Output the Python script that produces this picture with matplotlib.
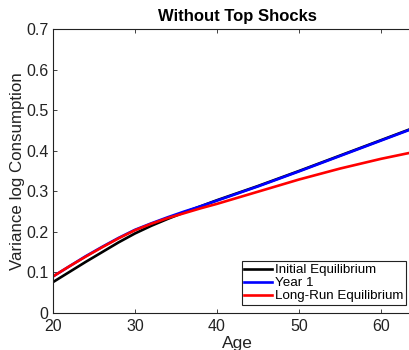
import numpy as np
import matplotlib.pyplot as plt

plt.rcParams['font.family'] = ['Liberation Sans', 'DejaVu Sans']

# variance of log consumption by age
age = [20, 22, 24, 26, 28, 30, 32, 34, 36, 38, 40, 45, 50, 55, 60, 65]
initial_eq = [0.076, 0.101, 0.126, 0.150, 0.174, 0.196, 0.215, 0.232, 0.248, 0.263, 0.278,
              0.313, 0.350, 0.388, 0.426, 0.464]
year_1 = [0.090, 0.115, 0.140, 0.163, 0.185, 0.205, 0.221, 0.236, 0.250, 0.263, 0.277,
          0.312, 0.349, 0.387, 0.425, 0.463]
long_run = [0.090, 0.115, 0.139, 0.162, 0.184, 0.204, 0.220, 0.234, 0.246, 0.258, 0.269,
            0.299, 0.329, 0.356, 0.380, 0.401]

fig = plt.figure(figsize=(4.1, 3.5), dpi=100)
ax = fig.add_axes([0.129, 0.1057, 0.9, 0.8113])

ax.plot(age, initial_eq, color='black', lw=1.9, label='Initial Equilibrium')
ax.plot(age, year_1, color='blue', lw=1.9, label='Year 1')
ax.plot(age, long_run, color='red', lw=1.9, label='Long-Run Equilibrium')

ax.set_xlim(20, 65)
ax.set_ylim(0, 0.7)
ax.set_xticks([20, 30, 40, 50, 60])
ax.set_yticks(np.arange(0, 0.71, 0.1))
ax.set_yticklabels(['0', '0.1', '0.2', '0.3', '0.4', '0.5', '0.6', '0.7'])
ax.tick_params(direction='in', length=3, width=0.6, top=True, right=True,
               labelsize=11.5, colors='#222222', labelcolor='#222222')
ax.tick_params(axis='y', pad=3)
ax.tick_params(axis='x', pad=4.5)
for s in ax.spines.values():
    s.set_linewidth(0.8)
    s.set_color('#222222')

ax.set_title('Without Top Shocks', fontsize=12, fontweight='bold', pad=6)
ax.set_xlabel('Age', fontsize=12.5, labelpad=1, color='#222222')
ax.set_ylabel('Variance log Consumption', fontsize=12.2, labelpad=1, color='#222222')

leg = ax.legend(loc='lower right', bbox_to_anchor=(406 / 410, 1 - 305 / 350),
                bbox_transform=fig.transFigure, borderaxespad=0, fontsize=9.6,
                fancybox=False, framealpha=1, edgecolor='#222222',
                handlelength=2.1, handletextpad=0.2, labelspacing=0.05,
                borderpad=0.2)
leg.get_frame().set_linewidth(0.8)

fig.savefig('out.png', dpi=100)
